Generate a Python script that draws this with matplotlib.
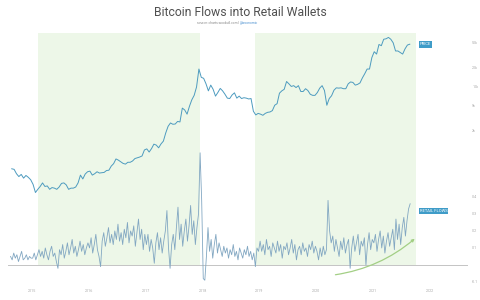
"""
Bitcoin flows into retail wallets vs price
"""
import matplotlib.pyplot as plt
import numpy as np

# price, twice a month, from the second half of Aug 2014
price = [480, 470, 400, 360, 390, 340, 375, 350, 320,
         # 2015
         270, 200, 225, 250, 285, 250, 255, 225, 240, 235, 225, 245,
         280, 285, 265, 225, 235, 235, 245, 285, 380, 330, 395, 430,
         # 2016
         440, 380, 400, 430, 410, 415, 420, 450, 455, 530, 580, 690,
         660, 620, 585, 570, 610, 610, 640, 700, 720, 740, 770, 960,
         # 2017
         1000, 890, 1010, 1190, 1150, 1040, 1200, 1330, 1800, 2300, 2600, 2480,
         2500, 2750, 2700, 4500, 4200, 3600, 4800, 6100, 7200, 9800, 19000, 14000,
         # 2018
         13500, 11000, 8500, 10500, 9000, 7000, 8000, 9300, 8500, 7500, 6500, 6400,
         7300, 7900, 6500, 7000, 6400, 6600, 6500, 6300, 6400, 4000, 3500, 3700,
         # 2019
         3600, 3450, 3700, 3850, 3900, 4100, 5000, 5300, 7800, 8500, 9000, 12000,
         11000, 10000, 10300, 9600, 10300, 8300, 8300, 9200, 8600, 7500, 7200, 7200,
         # 2020
         8000, 9400, 10300, 8600, 5000, 6400, 7100, 8700, 9500, 9400, 9500, 9200,
         9200, 11000, 11800, 11600, 10500, 10800, 11400, 13700, 16000, 19000, 19000, 29000,
         # 2021
         36000, 33000, 47000, 45000, 57000, 58000, 61000, 57000, 50000, 37000, 37000, 35000,
         33000, 40000, 46000, 47500]

# retail flows, three a month, from mid Aug 2014
flows = [0.05, 0.03, 0.07, 0.04, 0.06, 0.02, 0.05, 0.08, 0.03, 0.04, 0.06, 0.03, 0.05, 0.04,
         # 2015
         0.04, 0.07, 0.03, 0.06, 0.09, 0.05, 0.08, 0.04, 0.10, 0.06, 0.03, 0.08,
         0.11, 0.05, 0.07, 0.02, -0.02, 0.09, 0.06, 0.12, 0.04, 0.08, 0.13, 0.06,
         0.10, 0.15, 0.07, 0.11, 0.05, 0.09, 0.14, 0.08, 0.12, 0.06, 0.10, 0.13,
         # 2016
         0.10, 0.16, 0.07, 0.12, 0.18, 0.09, 0.05, -0.01, 0.14, 0.19, 0.11, 0.16,
         0.22, 0.13, 0.18, 0.12, 0.20, 0.15, 0.24, 0.14, 0.19, 0.12, 0.21, 0.16,
         0.25, 0.13, 0.20, 0.17, 0.23, 0.11, 0.19, 0.27, 0.15, 0.21, 0.09, 0.18,
         # 2017
         0.12, 0.18, 0.08, 0.15, 0.10, 0.01, 0.13, 0.19, 0.09, 0.16, 0.07, 0.14,
         0.20, 0.32, 0.10, -0.02, 0.12, 0.18, 0.09, 0.22, 0.34, 0.15, 0.24, 0.11,
         0.20, 0.27, 0.14, 0.23, 0.35, 0.18, 0.26, 0.12, 0.22, 0.30, 0.66, 0.38,
         # 2018
         -0.08, -0.09, 0.05, 0.22, 0.08, 0.15, 0.04, 0.12, 0.18, 0.07, 0.13, 0.09,
         0.05, 0.11, 0.07, 0.10, 0.04, 0.09, 0.06, 0.12, 0.05, 0.08, 0.03, 0.10,
         0.07, 0.04, 0.09, 0.06, 0.11, 0.05, 0.08, 0.03, 0.07, -0.01, 0.10, 0.08,
         # 2019
         0.14, 0.08, 0.12, 0.06, 0.15, 0.09, 0.11, 0.05, 0.13, 0.10, 0.07, 0.14,
         0.08, 0.12, 0.04, 0.11, 0.09, 0.13, 0.06, 0.10, 0.15, 0.07, 0.12, 0.03,
         0.09, 0.11, 0.06, 0.13, 0.08, 0.10, 0.05, 0.12, 0.09, 0.14, 0.07, 0.11,
         # 2020
         0.08, 0.03, 0.10, 0.05, 0.11, 0.06, 0.09, 0.38, 0.20, 0.13, 0.17, 0.08,
         0.15, 0.10, 0.05, 0.14, 0.09, 0.16, 0.07, 0.12, 0.15, -0.02, 0.10, 0.17,
         0.08, 0.13, 0.18, 0.06, 0.14, 0.11, 0.16, 0.00, 0.12, 0.19, 0.09, 0.15,
         # 2021
         0.13, 0.18, 0.08, 0.15, 0.20, 0.10, 0.17, 0.07, 0.14, 0.19, 0.11, 0.16,
         0.21, 0.09, 0.27, 0.15, 0.24, 0.12, 0.22, 0.28, 0.17, 0.26, 0.33, 0.36]

# accumulation periods (shaded)
spans = [(2015.1, 2017.96), (2018.93, 2021.76)]
years = [2015, 2016, 2017, 2018, 2019, 2020, 2021, 2022]
price_ticks = [2000, 5000, 10000, 20000, 50000]
price_labels = ['2k', '5k', '10k', '20k', '50k']
flow_ticks = [-0.1, 0.1, 0.2, 0.3, 0.4]

t_price = 2014 + (15.5 + np.arange(len(price))) / 24
t_flows = 2014 + (22.5 + np.arange(len(flows))) / 36

plt.rcParams['font.family'] = ['Roboto', 'DejaVu Sans']

fig = plt.figure(figsize=(4.8, 3.0), dpi=100)
ax = fig.add_axes([8 / 480, 15 / 300, 460 / 480, 252 / 300])
ax2 = ax.twinx()

ax.set_xlim(2014.58, 2022.67)
ax.set_yscale('log')
ax.set_ylim(6.6, 71800)
ax2.set_ylim(-0.118, 1.365)

y0, y1 = ax2.get_ylim()
zero_frac = (0 - y0) / (y1 - y0)
for a, b in spans:
    ax.axvspan(a, b, ymin=zero_frac, ymax=1, color='#edf7e8', lw=0, zorder=0)

ax.plot(t_price, price, color='#4d9bbf', lw=0.7)
ax2.plot(t_flows, flows, color='#82a7c2', lw=0.6)
ax2.axhline(0, color='#c4c4c4', lw=0.7, zorder=1)

ax2.annotate('', xy=(2021.77, 0.165), xytext=(2020.29, -0.06),
             arrowprops=dict(arrowstyle='-|>', color='#a3cf85', lw=0.9,
                             mutation_scale=4,
                             connectionstyle='arc3,rad=0.15'))

box = dict(boxstyle='square,pad=0.25', fc='#3f9cc8', ec='none')
ax.text(2021.82, 47000, 'PRICE', color='white', fontsize=3,
        va='center', ha='left', bbox=box)
ax2.text(2021.82, 0.318, 'RETAIL FLOWS', color='white', fontsize=3,
         va='center', ha='left', bbox=box)

for a in (ax, ax2):
    for s in a.spines.values():
        s.set_visible(False)
    a.tick_params(length=0, colors='#aaaaaa', labelsize=2.6)

ax.set_xticks(years)
ax.set_xticklabels([str(y) for y in years])
ax.tick_params(axis='x', pad=3)
ax.yaxis.tick_right()
ax.set_yticks(price_ticks)
ax.set_yticklabels(price_labels)
ax.minorticks_off()
ax.tick_params(axis='y', pad=3)
ax2.set_yticks(flow_ticks)
ax2.set_yticklabels([str(f) for f in flow_ticks])
ax2.tick_params(axis='y', pad=3)

fig.text(0.5, 1 - 13 / 300, 'Bitcoin Flows into Retail Wallets',
         ha='center', va='center', fontsize=8.8, color='#505050')
fig.text(0.5, 1 - 23 / 300, 'source: charts.woobull.com | ', ha='right',
         va='center', fontsize=2.3, color='#888888')
fig.text(0.5, 1 - 23 / 300, '@woonomic', ha='left',
         va='center', fontsize=2.3, color='#4a90d0')

fig.savefig('out.png', dpi=100)
